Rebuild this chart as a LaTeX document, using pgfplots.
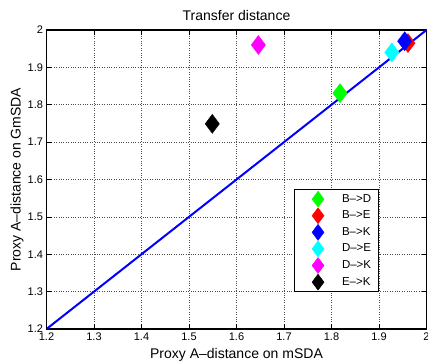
\documentclass[border=0pt]{standalone}
\usepackage{pgfplots}
\pgfplotsset{compat=1.18}
\usepackage{fontspec}
\setmainfont{Liberation Sans}
\definecolor{mgreen}{rgb}{0,1,0}
\definecolor{mred}{rgb}{1,0,0}
\definecolor{mblue}{rgb}{0,0,1}
\definecolor{mcyan}{rgb}{0,1,1}
\definecolor{mmag}{rgb}{1,0,1}
\begin{document}
\begin{tikzpicture}
\begin{axis}[name=ax, scale only axis, width=380pt, height=299pt,
  xmin=1.2, xmax=2, ymin=1.2, ymax=2,
  xtick={1.2,1.3,1.4,1.5,1.6,1.7,1.8,1.9,2},
  ytick={1.2,1.3,1.4,1.5,1.6,1.7,1.8,1.9,2},
  xticklabels={1.2,1.3,1.4,1.5,1.6,1.7,1.8,1.9,2},
  yticklabels={1.2,1.3,1.4,1.5,1.6,1.7,1.8,1.9,2},
  /pgf/number format/assume math mode=true,
  tick label style={font=\fontsize{11}{13}\selectfont},
  tick align=inside, major tick length=5pt, tick style={black, line width=0.5pt},
  axis line style={black, line width=1.2pt},
  grid=major, grid style={dotted, black!70, line width=0.5pt},
  title={Transfer distance},
  title style={font=\fontsize{14}{16}\selectfont, at={(axis description cs:0.5,1)}, anchor=base, yshift=3pt},
  xlabel={Proxy A–distance on mSDA},
  xlabel style={font=\fontsize{14}{16}\selectfont, at={(axis description cs:0.5,0)}, anchor=base, yshift=-29pt},
  ylabel={Proxy A–distance on GmSDA},
  ylabel style={font=\fontsize{14}{16}\selectfont, at={(axis description cs:-0.068,0.5)}, anchor=base},
  legend style={at={(axis description cs:0.874,0.124)}, anchor=south east, draw=black, line width=1pt,
    font=\fontsize{11.5}{13}\selectfont, row sep=0pt, column sep=0pt, inner xsep=4pt, inner ysep=1pt,
    nodes={inner xsep=3pt, inner ysep=2.3pt, text height=9pt, text depth=3pt}},
  legend cell align=left,
  legend image code/.code={\path[draw=none, fill=none, use as bounding box] (-20pt,-6pt) rectangle (21pt,6pt); \draw[#1, mark size=8pt, line width=0.4pt] plot coordinates {(0pt,0pt)};},
]
\addplot[only marks, mark=diamond*, mark size=9.5pt, color=mgreen, mark options={fill=mgreen, line width=0.4pt}] coordinates {(1.818,1.831)};
\addlegendentry{B–>D}
\addplot[only marks, mark=diamond*, mark size=9.5pt, color=mred, mark options={fill=mred, line width=0.4pt}] coordinates {(1.961,1.965)};
\addlegendentry{B–>E}
\addplot[only marks, mark=diamond*, mark size=9.5pt, color=mblue, mark options={fill=mblue, line width=0.4pt}] coordinates {(1.954,1.970)};
\addlegendentry{B–>K}
\addplot[only marks, mark=diamond*, mark size=9.5pt, color=mcyan, mark options={fill=mcyan, line width=0.4pt}] coordinates {(1.927,1.940)};
\addlegendentry{D–>E}
\addplot[only marks, mark=diamond*, mark size=9.5pt, color=mmag, mark options={fill=mmag, line width=0.4pt}] coordinates {(1.646,1.960)};
\addlegendentry{D–>K}
\addplot[only marks, mark=diamond*, mark size=9.5pt, color=black, mark options={fill=black, line width=0.4pt}] coordinates {(1.549,1.749)};
\addlegendentry{E–>K}
\addplot[mblue, line width=2pt, forget plot] coordinates {(1.2,1.2) (2,2)};
\end{axis}
\pgfresetboundingbox
\path[use as bounding box] ([shift={(-46.5pt,-32pt)}]ax.south west) rectangle ([shift={(1.5pt,30pt)}]ax.north east);
\end{tikzpicture}
\end{document}
